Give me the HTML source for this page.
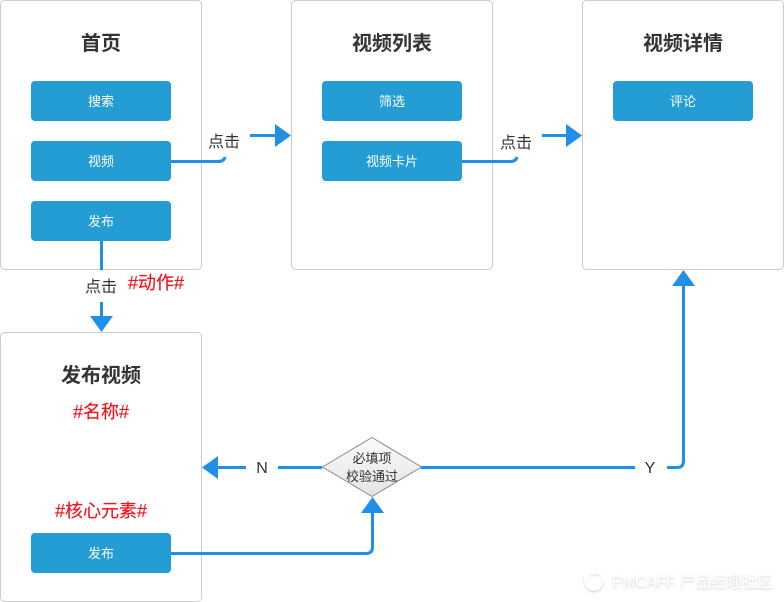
<!DOCTYPE html>
<html><head><meta charset="utf-8">
<style>
html,body{margin:0;padding:0;background:#fff;width:784px;height:602px;overflow:hidden}
svg{display:block}
text{font-family:"Liberation Sans","Noto Sans CJK SC",sans-serif;text-anchor:middle}
.t{font-size:20px;font-weight:700;fill:#333}
.b{font-size:13px;fill:#fff}
.l{font-size:16px;fill:#333}
.r{font-size:18px;fill:#f5101c;stroke:#f5101c;stroke-width:.15}
.c{fill:none;stroke:#1f8fe8;stroke-width:3}
.a{fill:#1f8fe8}
.n{fill:#fff;stroke:#ccc;stroke-width:1}
.p{fill:#249cd4}
</style></head><body>
<svg width="784" height="602" viewBox="0 0 784 602" xmlns="http://www.w3.org/2000/svg">
<defs>
<linearGradient id="g" x1="0" y1="0" x2="0" y2="1"><stop offset="0" stop-color="#fafafa"/><stop offset="1" stop-color="#e4e4e4"/></linearGradient>
<filter id="wm" x="-5%" y="-30%" width="110%" height="160%"><feGaussianBlur in="SourceAlpha" stdDeviation="1"/><feOffset dx="0" dy="1"/><feColorMatrix values="0 0 0 0 0.5 0 0 0 0 0.5 0 0 0 0 0.5 0 0 0 0.75 0"/><feMerge><feMergeNode/><feMergeNode in="SourceGraphic"/></feMerge></filter>
</defs>
<rect class="n" x="0.5" y="0.5" width="201" height="269" rx="4"/>
<rect class="n" x="291.5" y="0.5" width="201" height="269" rx="4"/>
<rect class="n" x="582.5" y="0.5" width="201" height="269" rx="4"/>
<rect class="n" x="0.5" y="332.5" width="201" height="269" rx="4"/>

<path class="c" d="M171 161.500H218Q224 161.500 225 157"/>
<path class="c" d="M250 135.500H276"/><path class="a" d="M275 124L291 135.500L275 147Z"/>
<path class="c" d="M462 161.500H510Q516 161.500 517 157"/>
<path class="c" d="M542 135.500H567"/><path class="a" d="M566 124L582 135.500L566 147Z"/>
<path class="c" d="M101.500 241V270"/>
<path class="c" d="M101.500 302V318"/><path class="a" d="M90 316H113L101.500 332Z"/>
<path class="c" d="M246 467.500H217"/><path class="a" d="M218 456L202 467.500L218 479Z"/>
<path class="c" d="M322 467.500H278"/>
<path class="c" d="M421 467.500H635"/>
<path class="c" d="M667 467.500H677Q683.500 467.500 683.500 461V284"/><path class="a" d="M672 286L683.500 270L695 286Z"/>
<path class="c" d="M171 553.500H366Q372.500 553.500 372.500 547V511"/><path class="a" d="M361 513L372.500 497L384 513Z"/>

<rect class="p" x="31" y="81" width="140" height="40" rx="4"/>
<rect class="p" x="31" y="141" width="140" height="40" rx="4"/>
<rect class="p" x="31" y="201" width="140" height="40" rx="4"/>
<rect class="p" x="322" y="81" width="140" height="40" rx="4"/>
<rect class="p" x="322" y="141" width="140" height="40" rx="4"/>
<rect class="p" x="613" y="81" width="140" height="40" rx="4"/>
<rect class="p" x="31" y="533" width="140" height="40" rx="4"/>
<path d="M372 437.500L421.500 467L372 496.500L322.500 467Z" fill="url(#g)" stroke="#8c8c8c" stroke-width="1"/>

<text class="t" x="101" y="50">首页</text>
<text class="t" x="392" y="50">视频列表</text>
<text class="t" x="683" y="50">视频详情</text>
<text class="t" x="101" y="382">发布视频</text>
<text class="b" x="101" y="106">搜索</text>
<text class="b" x="101" y="166">视频</text>
<text class="b" x="101" y="226">发布</text>
<text class="b" x="392" y="106">筛选</text>
<text class="b" x="392" y="166">视频卡片</text>
<text class="b" x="683" y="106">评论</text>
<text class="b" x="101" y="558">发布</text>
<text class="l" x="224" y="147">点击</text>
<text class="l" x="516" y="148">点击</text>
<text class="l" x="101" y="292">点击</text>
<text class="l" x="262" y="473">N</text>
<text class="l" x="650" y="473">Y</text>
<text class="r" x="156" y="289">#动作#</text>
<text class="r" x="101" y="418">#名称#</text>
<text class="r" x="101" y="517">#核心元素#</text>
<text x="372" y="463" style="font-size:13px;fill:#333">必填项</text>
<text x="372" y="481" style="font-size:13px;fill:#333">校验通过</text>

<g filter="url(#wm)">
<path d="M584 576Q583 590 594 591Q604 590 604 578Q601 586 594 586Q587 584 584 576Z" fill="#fff"/>
<path d="M588 575Q596 570 602 576Q596 573 588 575Z" fill="#fff"/>
<text x="692.500" y="587" style="font-size:15.500px;fill:#fff">PMCAFF 产品经理社区</text>
</g>
</svg>
</body></html>
